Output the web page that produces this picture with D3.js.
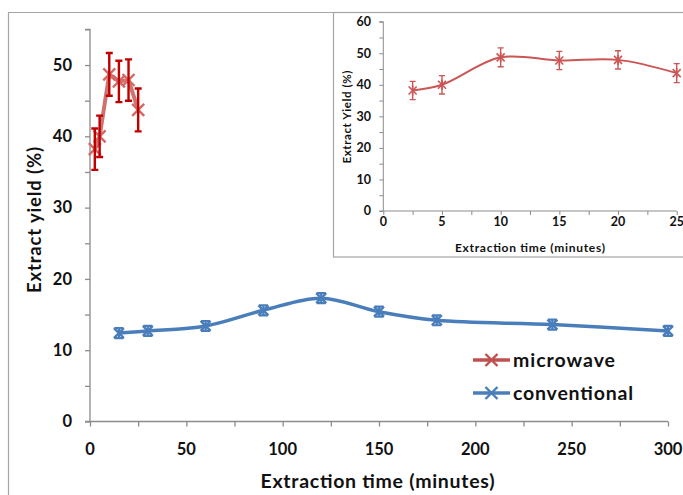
<!DOCTYPE html>
<html>
<head>
<meta charset="utf-8">
<script src="https://cdn.jsdelivr.net/npm/d3@7"></script>
<style>
  body { margin: 0; background: #fff; }
  svg { display: block; font-family: Lato, "Open Sans", sans-serif; }
</style>
</head>
<body>
<svg id="chart" width="683" height="495"></svg>
<script>
// Extraction yield over time: microwave vs conventional extraction
const microTime  = [2.5, 5, 10, 15, 20, 25];
const microYield = [38.2, 40.0, 48.7, 47.7, 47.9, 43.7];
const microErr   = [2.9, 2.9, 3.0, 2.9, 2.9, 3.0];

const convTime  = [15, 30, 60, 90, 120, 150, 180, 240, 300];
const convYield = [12.4, 12.7, 13.4, 15.6, 17.3, 15.4, 14.2, 13.6, 12.7];
const convErr   = [0.7, 0.7, 0.7, 0.7, 0.7, 0.7, 0.7, 0.7, 0.7];

const mainXTicks  = [0, 50, 100, 150, 200, 250, 300];
const mainYTicks  = [0, 10, 20, 30, 40, 50];
const insetXTicks = [0, 5, 10, 15, 20, 25];
const insetYTicks = [0, 10, 20, 30, 40, 50, 60];

const seriesNames = ["microwave", "conventional"];
const xTitle = "Extraction time (minutes)";
const yTitleMain = "Extract yield (%)";
const yTitleInset = "Extract Yield (%)";

const microData = microTime.map((t, i) => ({ t, y: microYield[i], e: microErr[i] }));
const convData  = convTime.map((t, i) => ({ t, y: convYield[i], e: convErr[i] }));

const svg = d3.select("#chart");
const AXIS = "#8c8c8c";
const TEXT = "#111";
const RED_LINE = "#c0504d";
const RED_BAR = "#c00000";
const BLUE = "#4a7ebb";

// outer frame
svg.append("path")
  .attr("d", "M8.5,500V12.5H700")
  .attr("fill", "none").attr("stroke", "#a6a6a6").attr("stroke-width", 1.2);

// ---------- main chart ----------
const x = d3.scaleLinear().domain([0, 300]).range([90, 668]);
const y = d3.scaleLinear().domain([0, 55]).range([421.5, 29.4]);

const gMain = svg.append("g");

// y axis with ticks every 5, labels every 10
const yAxis = d3.axisLeft(y).tickValues(d3.range(0, 56, 5)).tickSize(5).tickFormat("");
const gy = gMain.append("g").attr("transform", `translate(${x(0)},0)`).call(yAxis);
gy.select(".domain").attr("d", `M${-5},${y(55)}H0V${y(0)}`);
gy.selectAll("line, path").attr("stroke", AXIS).attr("stroke-width", 1.3);
gMain.append("g").selectAll("text").data(mainYTicks).join("text")
  .attr("x", 72).attr("y", d => y(d)).attr("dy", "0.35em")
  .attr("text-anchor", "end").attr("font-size", 16.5).attr("font-weight", 700)
  .attr("fill", TEXT).text(d => d);

// x axis with ticks every 25, labels every 50
const xAxis = d3.axisBottom(x).tickValues(d3.range(0, 301, 25)).tickSize(5).tickFormat("");
const gx = gMain.append("g").attr("transform", `translate(0,${y(0)})`).call(xAxis);
gx.select(".domain").attr("d", `M${x(0) - 5},0H${x(300)}`);
gx.selectAll("line, path").attr("stroke", AXIS).attr("stroke-width", 1.3);
gMain.append("g").selectAll("text").data(mainXTicks).join("text")
  .attr("x", d => x(d)).attr("y", 454.5)
  .attr("text-anchor", "middle").attr("font-size", 16.5).attr("font-weight", 700)
  .attr("fill", TEXT).text(d => d);

gMain.append("text").attr("x", 377.5).attr("y", 487.5).attr("text-anchor", "middle")
  .attr("font-size", 19.5).attr("font-weight", 700).attr("fill", TEXT)
  .attr("textLength", 234).attr("lengthAdjust", "spacing").text(xTitle);
gMain.append("text").attr("transform", "translate(40.5,220) rotate(-90)")
  .attr("text-anchor", "middle").attr("font-size", 18.5).attr("font-weight", 700)
  .attr("fill", TEXT).attr("textLength", 146).attr("lengthAdjust", "spacing").text(yTitleMain);

function xMarker(g, cx, cy, r) {
  return g.append("path").attr("d", `M${cx - r},${cy - r}L${cx + r},${cy + r}M${cx - r},${cy + r}L${cx + r},${cy - r}`);
}

function errorBars(g, data, sx, sy, cap, color, width) {
  const eb = g.append("g").attr("stroke", color).attr("stroke-width", width).attr("fill", "none");
  data.forEach(d => {
    const cx = sx(d.t), top = sy(d.y + d.e), bot = sy(d.y - d.e);
    eb.append("path").attr("d",
      `M${cx},${top}V${bot}M${cx - cap},${top}H${cx + cap}M${cx - cap},${bot}H${cx + cap}`);
  });
}

const smooth = d3.line().x(d => x(d.t)).y(d => y(d.y)).curve(d3.curveCatmullRom.alpha(0.5));

// conventional series
gMain.append("path").datum(convData).attr("d", smooth)
  .attr("fill", "none").attr("stroke", BLUE).attr("stroke-width", 3.5);
errorBars(gMain, convData, x, y, 4.5, BLUE, 2.2);
const convMarks = gMain.append("g").attr("stroke", BLUE).attr("stroke-width", 2.4).attr("fill", "none");
convData.forEach(d => xMarker(convMarks, x(d.t), y(d.y), 5));

// microwave series
gMain.append("path").datum(microData)
  .attr("d", d3.line().x(d => x(d.t)).y(d => y(d.y)))
  .attr("fill", "none").attr("stroke", RED_LINE).attr("stroke-opacity", 0.8).attr("stroke-width", 4);
const microMarks = gMain.append("g").attr("stroke", "#d06a68").attr("stroke-width", 2.4).attr("fill", "none");
microData.forEach(d => xMarker(microMarks, x(d.t), y(d.y), 6));
errorBars(gMain, microData, x, y, 3.5, RED_BAR, 2.4);

// legend
const legend = gMain.append("g");
const legendRows = [
  { name: seriesNames[0], color: RED_LINE, cy: 360, len: 102 },
  { name: seriesNames[1], color: BLUE, cy: 393, len: 120 }
];
legendRows.forEach(r => {
  legend.append("line").attr("x1", 473).attr("x2", 510).attr("y1", r.cy).attr("y2", r.cy)
    .attr("stroke", r.color).attr("stroke-width", 3.5);
  xMarker(legend, 491.5, r.cy, 6).attr("stroke", r.color).attr("stroke-width", 2.4).attr("fill", "none");
  legend.append("text").attr("x", 513).attr("y", r.cy).attr("dy", "0.36em")
    .attr("font-size", 19.5).attr("font-weight", 700).attr("fill", TEXT)
    .attr("textLength", r.len).attr("lengthAdjust", "spacing").text(r.name);
});

// ---------- inset chart (microwave detail) ----------
const gIn = svg.append("g");
gIn.append("rect").attr("x", 333.5).attr("y", 12.5).attr("width", 400).attr("height", 244.5)
  .attr("fill", "#fff").attr("stroke", "#a6a6a6").attr("stroke-width", 1.2);

const xi = d3.scaleLinear().domain([0, 25]).range([383.3, 676.7]);
const yi = d3.scaleLinear().domain([0, 60]).range([211, 21.7]);

const giy = gIn.append("g").attr("transform", `translate(${xi(0)},0)`)
  .call(d3.axisLeft(yi).tickValues(d3.range(0, 61, 5)).tickSize(4).tickFormat(""));
giy.select(".domain").attr("d", `M-4,${yi(60)}H0V${yi(0)}`);
const gix = gIn.append("g").attr("transform", `translate(0,${yi(0)})`)
  .call(d3.axisBottom(xi).tickValues(d3.range(0, 25.1, 2.5)).tickSize(4).tickFormat(""));
gix.select(".domain").attr("d", `M${xi(0) - 4},0H${xi(25)}`);
gIn.selectAll(".tick line, .domain").attr("stroke", AXIS).attr("stroke-width", 1);

gIn.append("g").selectAll("text").data(insetYTicks).join("text")
  .attr("x", 371).attr("y", d => yi(d)).attr("dy", "0.35em").attr("text-anchor", "end")
  .attr("font-size", 12.5).attr("font-weight", 700).attr("fill", TEXT).text(d => d);
gIn.append("g").selectAll("text").data(insetXTicks).join("text")
  .attr("x", d => xi(d)).attr("y", 225.5).attr("text-anchor", "middle")
  .attr("font-size", 12.5).attr("font-weight", 700).attr("fill", TEXT).text(d => d);
gIn.append("text").attr("x", 530).attr("y", 251.5).attr("text-anchor", "middle")
  .attr("font-size", 12).attr("font-weight", 700).attr("fill", TEXT)
  .attr("textLength", 150).attr("lengthAdjust", "spacing").text(xTitle);
gIn.append("text").attr("transform", "translate(350.5,117) rotate(-90)").attr("text-anchor", "middle")
  .attr("font-size", 11.5).attr("font-weight", 700).attr("fill", TEXT)
  .attr("textLength", 93).attr("lengthAdjust", "spacing").text(yTitleInset);

const INSET_RED = "#cc5555";
gIn.append("path").datum(microData)
  .attr("d", d3.line().x(d => xi(d.t)).y(d => yi(d.y)).curve(d3.curveCatmullRom.alpha(0.5)))
  .attr("fill", "none").attr("stroke", INSET_RED).attr("stroke-width", 2);
errorBars(gIn, microData, xi, yi, 3, INSET_RED, 1.4);
const starMarks = gIn.append("g").attr("stroke", INSET_RED).attr("stroke-width", 1.6).attr("fill", "none");
microData.forEach(d => {
  xMarker(starMarks, xi(d.t), yi(d.y), 4);
  starMarks.append("path").attr("d", `M${xi(d.t)},${yi(d.y) - 5}V${yi(d.y) + 5}`);
});
</script>
</body>
</html>
